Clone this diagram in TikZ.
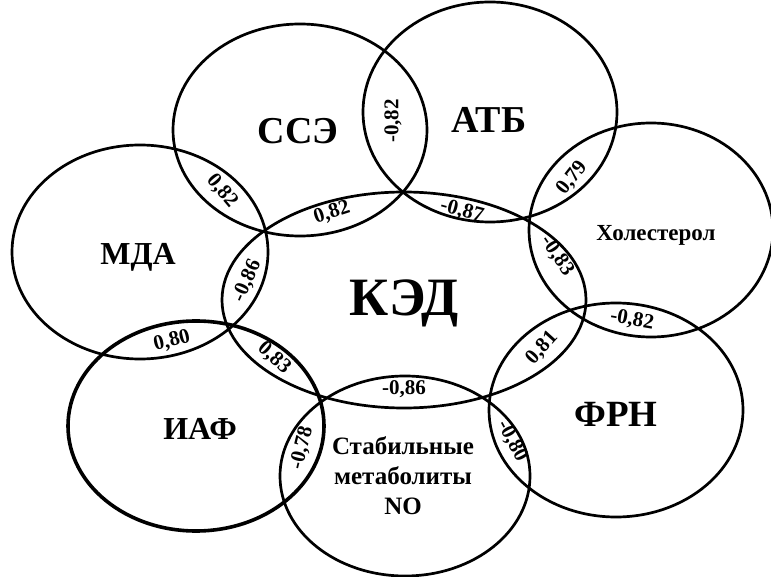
\documentclass[tikz,border=0pt]{standalone}
\usepackage{fontspec}
\setmainfont{Liberation Serif}
\tikzset{
  venn/.style={line width=2.7pt},
  big/.style={font=\fontsize{38}{40}\selectfont\bfseries},
  num/.style={font=\fontsize{21}{22}\selectfont\bfseries,inner sep=0pt}
}
\begin{document}
\begin{tikzpicture}[x=1pt,y=-1pt]
  \useasboundingbox[fill=white] (0,0) rectangle (771,577);
  \coordinate (ked) at (404,300);
  \coordinate (sse) at (300,130);
  \coordinate (atb) at (490,112);
  \coordinate (hol) at (651,230);
  \coordinate (mda) at (140,252);
  \coordinate (iaf) at (196,426);
  \coordinate (no) at (405,476);
  \coordinate (frn) at (616,410);
  \draw[venn] (sse) ellipse [x radius=127,y radius=106];
  \draw[venn] (atb) ellipse [x radius=127,y radius=110];
  \draw[venn] (hol) ellipse [x radius=122,y radius=107];
  \draw[venn] (mda) ellipse [x radius=128,y radius=107];
  \draw[venn,line width=3.6pt] (iaf) ellipse [x radius=128,y radius=105];
  \draw[venn] (no) ellipse [x radius=125,y radius=100];
  \draw[venn] (frn) ellipse [x radius=127,y radius=107];
  \draw[venn] (ked) ellipse [x radius=182,y radius=108];
  \node[big,font=\fontsize{54}{56}\selectfont\bfseries] (ked lbl) at (404,303) {КЭД};
  \node[big] (sse lbl) at (298,131) {ССЭ};
  \node[big] (atb lbl) at (489,120) {АТБ};
  \node[big,font=\fontsize{23}{25}\selectfont\bfseries] (hol lbl) at (656,235) {Холестерол};
  \node[big,font=\fontsize{32}{34}\selectfont\bfseries] (mda lbl) at (138,257) {МДА};
  \node[big,font=\fontsize{32}{34}\selectfont\bfseries] (iaf lbl) at (200,429) {ИАФ};
  \node[big,font=\fontsize{37}{39}\selectfont\bfseries] (frn lbl) at (616,414) {ФРН};
  \node[font=\fontsize{25}{30}\selectfont\bfseries,align=center] (no lbl) at (403,476) {Стабильные\\метаболиты\\NO};
  \node[num,rotate=90] (n1) at (393,121) {-0,82};
  \node[num,rotate=-50] (n2) at (222,191) {0,82};
  \node[num,rotate=18] (n3) at (332,213) {0,82};
  \node[num,rotate=-15] (n4) at (462,211) {-0,87};
  \node[num,rotate=52] (n5) at (572,178) {0,79};
  \node[num,rotate=-56] (n6) at (557,256) {-0,83};
  \node[num,rotate=-10] (n7) at (632,320) {-0,82};
  \node[num,rotate=66] (n8) at (247,281) {-0,86};
  \node[num,rotate=14] (n9) at (172,341) {0,80};
  \node[num,rotate=-42] (n10) at (274,358) {0,83};
  \node[num] (n11) at (404,389) {-0,86};
  \node[num,rotate=76] (n12) at (302,448) {-0,78};
  \node[num,rotate=48] (n13) at (542,348) {0,81};
  \node[num,rotate=-62] (n14) at (512,441) {-0,80};
\end{tikzpicture}
\end{document}
